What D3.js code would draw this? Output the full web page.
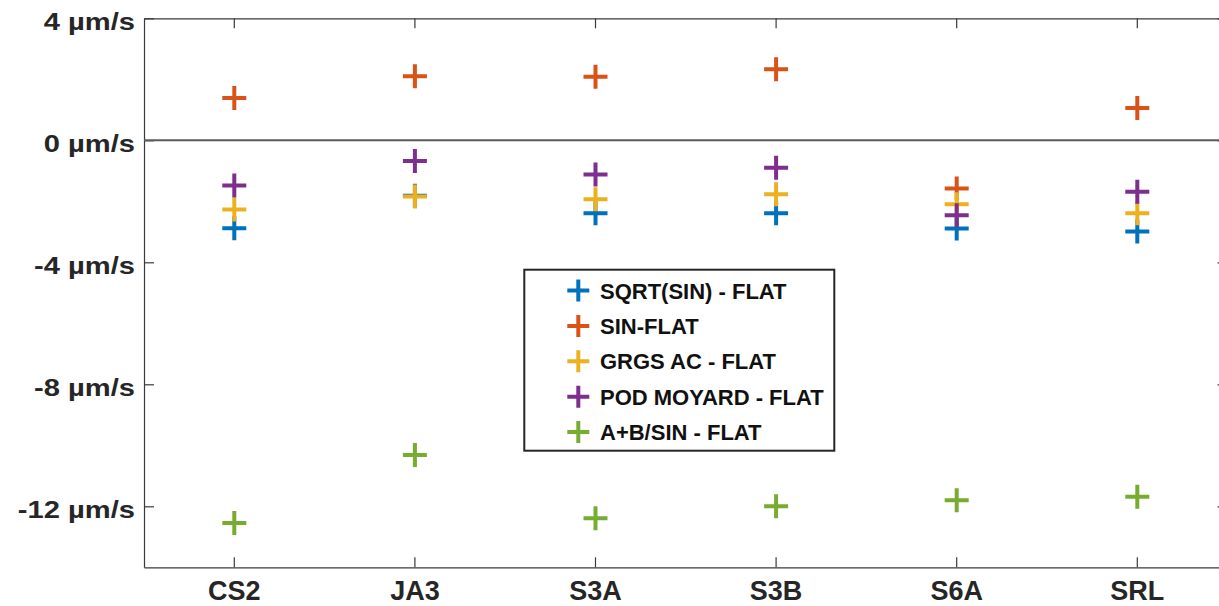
<!DOCTYPE html>
<html>
<head>
<meta charset="utf-8">
<script src="https://cdn.jsdelivr.net/npm/d3@7/dist/d3.min.js"></script>
<style>
  html, body { margin: 0; padding: 0; background: #fff; }
  svg { display: block; font-family: "Liberation Sans", Arial, sans-serif; font-weight: bold; }
</style>
</head>
<body>
<svg id="chart" width="1219" height="606"></svg>
<script>
// Satellite missions along the x axis
const missions = ["CS2", "JA3", "S3A", "S3B", "S6A", "SRL"];

// Velocity differences (µm/s), one array per model
const sqrtSinFlat   = [-2.88, -1.82, -2.39, -2.39, -2.89, -2.99];
const sinFlat       = [ 1.39,  2.10,  2.08,  2.33, -1.58,  1.06];
const grgsAcFlat    = [-2.27, -1.84, -1.93, -1.77, -2.10, -2.39];
const podMoyardFlat = [-1.48, -0.68, -1.12, -0.90, -2.46, -1.69];
const abSinFlat     = [-12.55, -10.32, -12.39, -12.00, -11.80, -11.69];

const seriesNames = ["SQRT(SIN) - FLAT", "SIN-FLAT", "GRGS AC - FLAT", "POD MOYARD - FLAT", "A+B/SIN - FLAT"];
const seriesValues = [sqrtSinFlat, sinFlat, grgsAcFlat, podMoyardFlat, abSinFlat];
const seriesColors = ["#0072BD", "#D95319", "#EDB120", "#7E2F8E", "#77AC30"];

const yTicks = [-12, -8, -4, 0, 4];

const svg = d3.select("#chart");
const plotLeft = 144, plotRight = 1227.6, plotTop = 18.3, plotBottom = 567.3;

const x = d3.scaleBand().domain(missions).range([plotLeft, plotRight]).paddingInner(0).paddingOuter(0);
const xc = m => x(m) + x.bandwidth() / 2;
const y = d3.scaleLinear().domain([-14, 4]).range([plotBottom, plotTop]);

const axisColor = "#3a3a3a";
const textColor = "#262626";

// Axes (ticks point inward, boxed frame)
const gx = svg.append("g").attr("transform", `translate(0,${plotBottom})`)
  .call(d3.axisBottom(x).tickSizeInner(-10).tickSizeOuter(0).tickPadding(25));
gx.selectAll("text").attr("font-size", 27).attr("fill", textColor)
  .attr("font-family", "'Liberation Sans', Arial, sans-serif").attr("font-weight", "bold")
  .attr("dy", 0).attr("y", 33);

const gxt = svg.append("g").attr("transform", `translate(0,${plotTop})`)
  .call(d3.axisTop(x).tickSizeInner(-10).tickSizeOuter(0).tickFormat(""));

const gy = svg.append("g").attr("transform", `translate(${plotLeft},0)`)
  .call(d3.axisLeft(y).tickValues(yTicks).tickSizeInner(-10).tickSizeOuter(0)
    .tickFormat(d => d + " µm/s"));
gy.selectAll("text")
  .attr("font-size", 23.5).attr("fill", textColor)
  .attr("font-family", "'Liberation Sans', Arial, sans-serif").attr("font-weight", "bold")
  .attr("dy", 0).attr("x", -9 / 1.24).attr("y", 11)
  .attr("transform", "scale(1.24,1)");

const gyr = svg.append("g").attr("transform", `translate(${plotRight},0)`)
  .call(d3.axisRight(y).tickValues(yTicks).tickSizeInner(-10).tickSizeOuter(0).tickFormat(""));

[gx, gxt, gy, gyr].forEach(g => {
  g.select(".domain").attr("stroke", axisColor).attr("stroke-width", 1.2);
  g.selectAll(".tick line").attr("stroke", axisColor).attr("stroke-width", 1.2);
});

// Zero reference line
svg.append("line")
  .attr("x1", plotLeft).attr("x2", plotRight)
  .attr("y1", y(0)).attr("y2", y(0))
  .attr("stroke", "#5a5a5a").attr("stroke-width", 2);

// Plus markers
const plus = s => `M${-s},0H${s}M0,${-s}V${s}`;

seriesValues.forEach((vals, i) => {
  svg.append("g").selectAll("path")
    .data(vals.map((v, j) => ({ m: missions[j], v })))
    .join("path")
    .attr("transform", d => `translate(${xc(d.m)},${y(d.v)})`)
    .attr("d", plus(12))
    .attr("fill", "none")
    .attr("stroke", seriesColors[i])
    .attr("stroke-width", 4);
});

// Legend
const lg = svg.append("g");
lg.append("rect")
  .attr("x", 524.3).attr("y", 269.7).attr("width", 310).attr("height", 181)
  .attr("fill", "#fff").attr("stroke", "#262626").attr("stroke-width", 2);

seriesNames.forEach((name, i) => {
  const by = 298.5 + i * 35.4;
  lg.append("path")
    .attr("transform", `translate(578.3,${by - 8})`)
    .attr("d", plus(11))
    .attr("fill", "none")
    .attr("stroke", seriesColors[i])
    .attr("stroke-width", 4);
  lg.append("text")
    .attr("x", 600).attr("y", by)
    .attr("font-size", 22).attr("fill", "#111")
    .text(name);
});
</script>
</body>
</html>
